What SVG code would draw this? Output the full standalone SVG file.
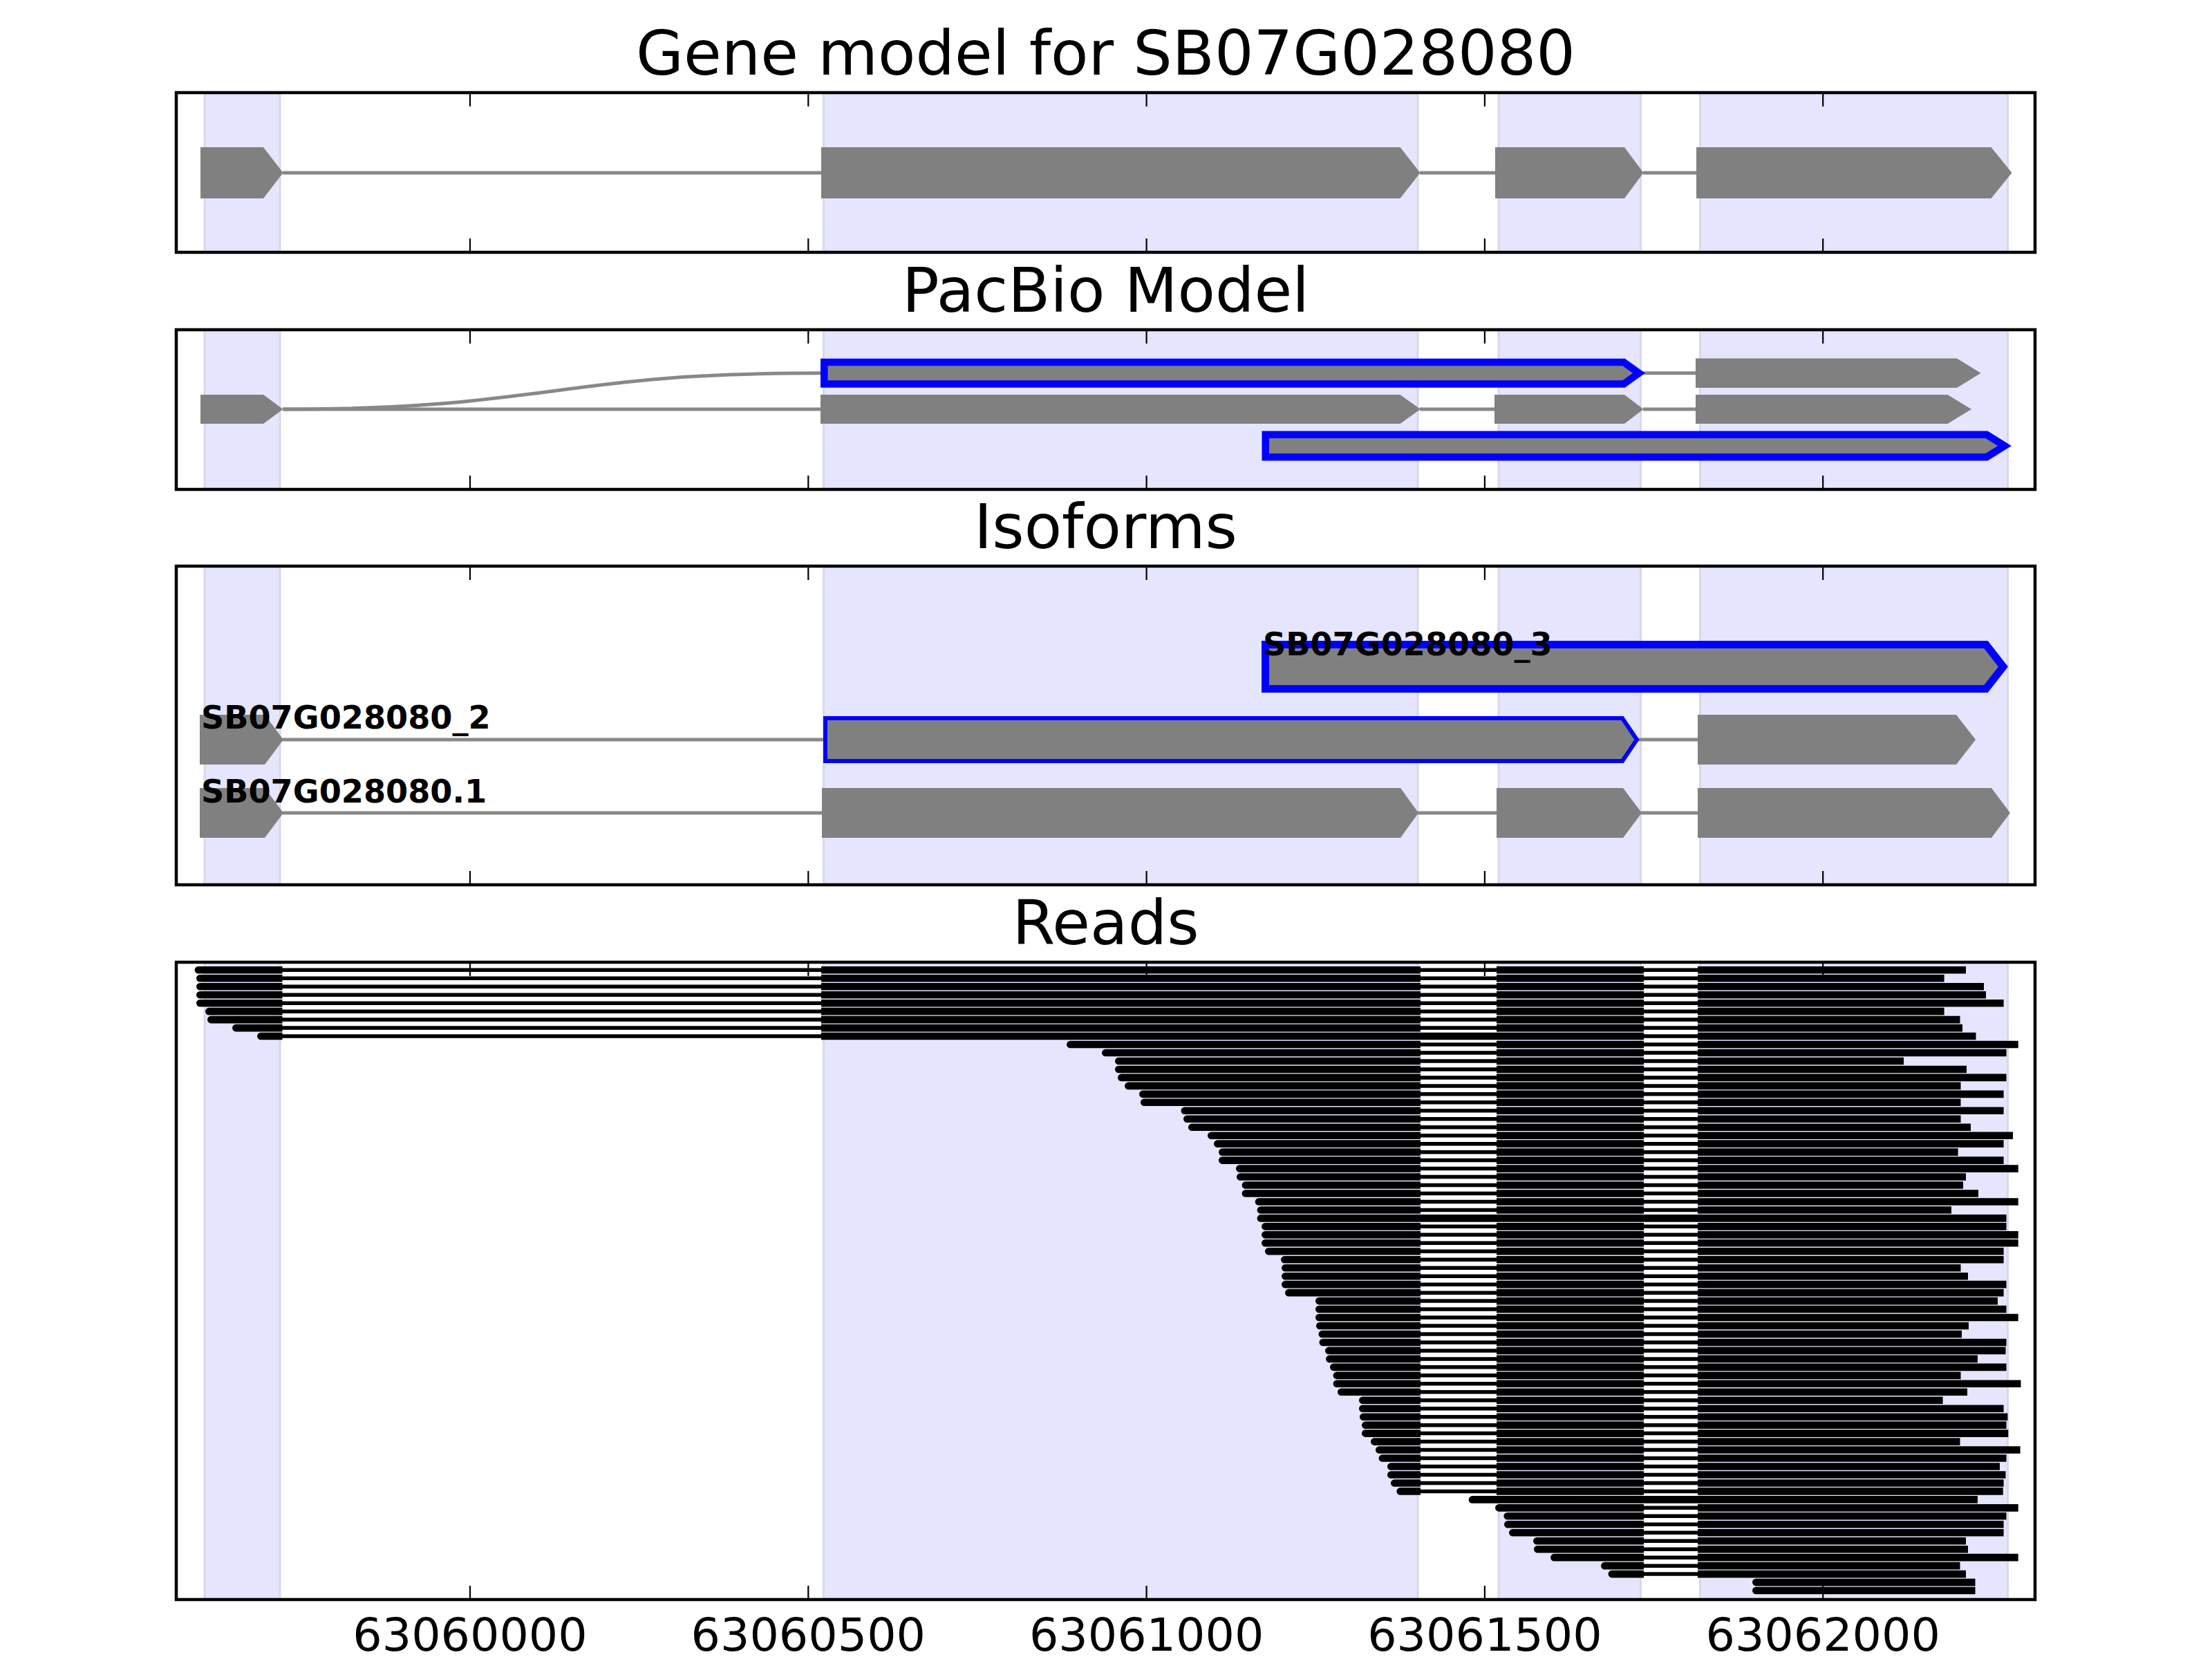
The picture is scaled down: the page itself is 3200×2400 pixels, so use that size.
<svg xmlns="http://www.w3.org/2000/svg" xmlns:xlink="http://www.w3.org/1999/xlink" width="3200" height="2400" viewBox="0 0 3200 2400">
<style>
text{font-family:"DejaVu Sans","Liberation Sans",sans-serif;fill:#000}
.ttl{font-size:89px;text-anchor:middle}
.tl{font-size:66.7px;text-anchor:middle}
.lab{font-size:46.2px;font-weight:bold}
.sh{fill:#e5e5fd;stroke:#d8d8ea;stroke-width:3}
.fr{fill:none;stroke:#000;stroke-width:4.5}
.tk{stroke:#000;stroke-width:2.2;fill:none}
.ex{fill:#808080}
.in{fill:none;stroke:#888;stroke-width:5}
.bl{fill:#808080;stroke:#0000ff;stroke-linejoin:miter}
</style>
<defs>
<path id="tkt" d="M680 0v20M1169.3 0v20M1658.6 0v20M2147.9 0v20M2637.2 0v20"/>
<path id="tkb" d="M680 0v-20M1169.3 0v-20M1658.6 0v-20M2147.9 0v-20M2637.2 0v-20"/>
<path id="m2" d="M1188 -5.3H2055v10.6H1188z"/>
<path id="m3" d="M2165 -5.3H2378v10.6H2165z"/>
<path id="lA" fill="none" stroke="#000" stroke-width="5.5" d="M408 0H1189M2054 0H2166M2377 0H2457"/>
<path id="lA8" fill="none" stroke="#000" stroke-width="5.5" d="M408 0H1189M2377 0H2457"/>
<path id="lB" fill="none" stroke="#000" stroke-width="5.5" d="M2054 0H2166M2377 0H2457"/>
<path id="lC" fill="none" stroke="#000" stroke-width="5.5" d="M2377 0H2457"/>
</defs>
<rect x="0" y="0" width="3200" height="2400" fill="#fff"/>

<g id="panel-gene-model">
<text class="ttl" x="1599.5" y="108">Gene model for SB07G028080</text>
<rect class="sh" x="296" y="134" width="109" height="231"/>
<rect class="sh" x="1191.5" y="134" width="859.5" height="231"/>
<rect class="sh" x="2168" y="134" width="205.5" height="231"/>
<rect class="sh" x="2459.5" y="134" width="445" height="231"/>
<path class="in" d="M409 250H1189M2054 250H2164M2377 250H2455"/>
<polygon class="ex" points="290,213 381,213 409.5,250 381,287 290,287"/>
<polygon class="ex" points="1188,213 2025.5,213 2054.5,250 2025.5,287 1188,287"/>
<polygon class="ex" points="2163,213 2350,213 2377.5,250 2350,287 2163,287"/>
<polygon class="ex" points="2454,213 2880.5,213 2910.5,250 2880.5,287 2454,287"/>
<rect class="fr" x="255" y="134" width="2689" height="231"/>
<use href="#tkt" class="tk" y="134"/>
<use href="#tkb" class="tk" y="365"/>
</g>

<g id="panel-pacbio">
<text class="ttl" x="1599.5" y="451">PacBio Model</text>
<rect class="sh" x="296" y="477" width="109" height="231"/>
<rect class="sh" x="1191.5" y="477" width="859.5" height="231"/>
<rect class="sh" x="2168" y="477" width="205.5" height="231"/>
<rect class="sh" x="2459.5" y="477" width="445" height="231"/>
<path class="in" d="M409 592C798 592 798 539.75 1188 539.75"/>
<path class="in" d="M2371 539.75H2454"/>
<polygon class="bl" stroke-width="10.5" points="1192.25,524 2349,524 2371,539.75 2349,555.5 1192.25,555.5"/>
<polygon class="ex" points="2453,518.5 2831,518.5 2865.5,539.75 2831,561 2453,561"/>
<path class="in" d="M409 592H1188M2054 592H2163M2377 592H2454"/>
<polygon class="ex" points="290,571 381,571 409.5,592 381,613 290,613"/>
<polygon class="ex" points="1187,571 2025.5,571 2055,592 2025.5,613 1187,613"/>
<polygon class="ex" points="2162,571 2350,571 2377.6,592 2350,613 2162,613"/>
<polygon class="ex" points="2453,571 2817.5,571 2852,592 2817.5,613 2453,613"/>
<polygon class="bl" stroke-width="10.5" points="1830.75,628.75 2874,628.75 2900,645 2874,661.25 1830.75,661.25"/>
<rect class="fr" x="255" y="477" width="2689" height="231"/>
<use href="#tkt" class="tk" y="477"/>
<use href="#tkb" class="tk" y="708"/>
</g>

<g id="panel-isoforms">
<text class="ttl" x="1599.5" y="793">Isoforms</text>
<rect class="sh" x="296" y="819" width="109" height="461"/>
<rect class="sh" x="1191.5" y="819" width="859.5" height="461"/>
<rect class="sh" x="2168" y="819" width="205.5" height="461"/>
<rect class="sh" x="2459.5" y="819" width="445" height="461"/>
<g id="iso-3">
<polygon class="bl" stroke-width="11" points="1830.5,932.5 2873,932.5 2898,964.5 2873,996.5 1830.5,996.5"/>
<text class="lab" x="1827" y="948">SB07G028080_3</text>
</g>
<g id="iso-2">
<path class="in" d="M409 1070H1195M2367 1070H2457"/>
<polygon class="ex" points="289,1034 383,1034 410,1070 383,1106 289,1106"/>
<polygon class="bl" stroke-width="6" points="1194,1039 2347,1039 2368,1070 2347,1101 1194,1101"/>
<polygon class="ex" points="2456,1034 2830,1034 2858,1070 2830,1106 2456,1106"/>
<text class="lab" x="291" y="1054">SB07G028080_2</text>
</g>
<g id="iso-1">
<path class="in" d="M409 1176H1190M2051 1176H2166M2374 1176H2457"/>
<polygon class="ex" points="289,1140 383,1140 410,1176 383,1212 289,1212"/>
<polygon class="ex" points="1189,1140 2026,1140 2052,1176 2026,1212 1189,1212"/>
<polygon class="ex" points="2165,1140 2348,1140 2375,1176 2348,1212 2165,1212"/>
<polygon class="ex" points="2456,1140 2881,1140 2908,1176 2881,1212 2456,1212"/>
<text class="lab" x="291" y="1161">SB07G028080.1</text>
</g>
<rect class="fr" x="255" y="819" width="2689" height="461"/>
<use href="#tkt" class="tk" y="819"/>
<use href="#tkb" class="tk" y="1280"/>
</g>

<g id="panel-reads">
<text class="ttl" x="1599.5" y="1366">Reads</text>
<rect class="sh" x="296" y="1392" width="109" height="922"/>
<rect class="sh" x="1191.5" y="1392" width="859.5" height="922"/>
<rect class="sh" x="2168" y="1392" width="205.5" height="922"/>
<rect class="sh" x="2459.5" y="1392" width="445" height="922"/>
<g id="reads" fill="#000">
<g transform="translate(0,1403.3)"><use href="#lA"/><use href="#m2"/><use href="#m3"/><path d="M286.9 -5.3H408.5v10.6H286.9a5.3 5.3 0 0 1 0-10.6zM2456 -5.3H2844v10.6H2456z"/></g>
<g transform="translate(0,1415.27)"><use href="#lA"/><use href="#m2"/><use href="#m3"/><path d="M289.3 -5.3H408.5v10.6H289.3a5.3 5.3 0 0 1 0-10.6zM2456 -5.3H2812.6v10.6H2456z"/></g>
<g transform="translate(0,1427.24)"><use href="#lA"/><use href="#m2"/><use href="#m3"/><path d="M289.3 -5.3H408.5v10.6H289.3a5.3 5.3 0 0 1 0-10.6zM2456 -5.3H2870v10.6H2456z"/></g>
<g transform="translate(0,1439.21)"><use href="#lA"/><use href="#m2"/><use href="#m3"/><path d="M289.3 -5.3H408.5v10.6H289.3a5.3 5.3 0 0 1 0-10.6zM2456 -5.3H2873v10.6H2456z"/></g>
<g transform="translate(0,1451.18)"><use href="#lA"/><use href="#m2"/><use href="#m3"/><path d="M289.3 -5.3H408.5v10.6H289.3a5.3 5.3 0 0 1 0-10.6zM2456 -5.3H2898.6v10.6H2456z"/></g>
<g transform="translate(0,1463.15)"><use href="#lA"/><use href="#m2"/><use href="#m3"/><path d="M302.3 -5.3H408.5v10.6H302.3a5.3 5.3 0 0 1 0-10.6zM2456 -5.3H2812.6v10.6H2456z"/></g>
<g transform="translate(0,1475.12)"><use href="#lA"/><use href="#m2"/><use href="#m3"/><path d="M305.3 -5.3H408.5v10.6H305.3a5.3 5.3 0 0 1 0-10.6zM2456 -5.3H2835.5v10.6H2456z"/></g>
<g transform="translate(0,1487.09)"><use href="#lA"/><use href="#m2"/><use href="#m3"/><path d="M341.3 -5.3H408.5v10.6H341.3a5.3 5.3 0 0 1 0-10.6zM2456 -5.3H2839v10.6H2456z"/></g>
<g transform="translate(0,1499.06)"><use href="#lA8"/><path d="M377.3 -5.3H408.5v10.6H377.3a5.3 5.3 0 0 1 0-10.6zM1188 -5.3H2378v10.6H1188zM2456 -5.3H2858.5v10.6H2456z"/></g>
<g transform="translate(0,1511.03)"><use href="#lB"/><use href="#m3"/><path d="M1548.3 -5.3H2055v10.6H1548.3a5.3 5.3 0 0 1 0-10.6zM2456 -5.3H2919.7v10.6H2456z"/></g>
<g transform="translate(0,1523)"><use href="#lB"/><use href="#m3"/><path d="M1599.3 -5.3H2055v10.6H1599.3a5.3 5.3 0 0 1 0-10.6zM2456 -5.3H2902.5v10.6H2456z"/></g>
<g transform="translate(0,1534.97)"><use href="#lB"/><use href="#m3"/><path d="M1618.3 -5.3H2055v10.6H1618.3a5.3 5.3 0 0 1 0-10.6zM2456 -5.3H2754v10.6H2456z"/></g>
<g transform="translate(0,1546.94)"><use href="#lB"/><use href="#m3"/><path d="M1618.3 -5.3H2055v10.6H1618.3a5.3 5.3 0 0 1 0-10.6zM2456 -5.3H2845v10.6H2456z"/></g>
<g transform="translate(0,1558.91)"><use href="#lB"/><use href="#m3"/><path d="M1622.3 -5.3H2055v10.6H1622.3a5.3 5.3 0 0 1 0-10.6zM2456 -5.3H2902.5v10.6H2456z"/></g>
<g transform="translate(0,1570.88)"><use href="#lB"/><use href="#m3"/><path d="M1632.3 -5.3H2055v10.6H1632.3a5.3 5.3 0 0 1 0-10.6zM2456 -5.3H2836.5v10.6H2456z"/></g>
<g transform="translate(0,1582.85)"><use href="#lB"/><use href="#m3"/><path d="M1653.3 -5.3H2055v10.6H1653.3a5.3 5.3 0 0 1 0-10.6zM2456 -5.3H2898.6v10.6H2456z"/></g>
<g transform="translate(0,1594.82)"><use href="#lB"/><use href="#m3"/><path d="M1655.3 -5.3H2055v10.6H1655.3a5.3 5.3 0 0 1 0-10.6zM2456 -5.3H2836.5v10.6H2456z"/></g>
<g transform="translate(0,1606.79)"><use href="#lB"/><use href="#m3"/><path d="M1713.8 -5.3H2055v10.6H1713.8a5.3 5.3 0 0 1 0-10.6zM2456 -5.3H2898.6v10.6H2456z"/></g>
<g transform="translate(0,1618.76)"><use href="#lB"/><use href="#m3"/><path d="M1717.3 -5.3H2055v10.6H1717.3a5.3 5.3 0 0 1 0-10.6zM2456 -5.3H2836.5v10.6H2456z"/></g>
<g transform="translate(0,1630.73)"><use href="#lB"/><use href="#m3"/><path d="M1724.3 -5.3H2055v10.6H1724.3a5.3 5.3 0 0 1 0-10.6zM2456 -5.3H2851v10.6H2456z"/></g>
<g transform="translate(0,1642.7)"><use href="#lB"/><use href="#m3"/><path d="M1752.3 -5.3H2055v10.6H1752.3a5.3 5.3 0 0 1 0-10.6zM2456 -5.3H2912v10.6H2456z"/></g>
<g transform="translate(0,1654.67)"><use href="#lB"/><use href="#m3"/><path d="M1761.3 -5.3H2055v10.6H1761.3a5.3 5.3 0 0 1 0-10.6zM2456 -5.3H2898.6v10.6H2456z"/></g>
<g transform="translate(0,1666.64)"><use href="#lB"/><use href="#m3"/><path d="M1768.3 -5.3H2055v10.6H1768.3a5.3 5.3 0 0 1 0-10.6zM2456 -5.3H2832.6v10.6H2456z"/></g>
<g transform="translate(0,1678.61)"><use href="#lB"/><use href="#m3"/><path d="M1768.3 -5.3H2055v10.6H1768.3a5.3 5.3 0 0 1 0-10.6zM2456 -5.3H2898.6v10.6H2456z"/></g>
<g transform="translate(0,1690.58)"><use href="#lB"/><use href="#m3"/><path d="M1793.3 -5.3H2055v10.6H1793.3a5.3 5.3 0 0 1 0-10.6zM2456 -5.3H2919.7v10.6H2456z"/></g>
<g transform="translate(0,1702.55)"><use href="#lB"/><use href="#m3"/><path d="M1794.3 -5.3H2055v10.6H1794.3a5.3 5.3 0 0 1 0-10.6zM2456 -5.3H2844v10.6H2456z"/></g>
<g transform="translate(0,1714.52)"><use href="#lB"/><use href="#m3"/><path d="M1801.9 -5.3H2055v10.6H1801.9a5.3 5.3 0 0 1 0-10.6zM2456 -5.3H2840v10.6H2456z"/></g>
<g transform="translate(0,1726.49)"><use href="#lB"/><use href="#m3"/><path d="M1801.9 -5.3H2055v10.6H1801.9a5.3 5.3 0 0 1 0-10.6zM2456 -5.3H2862v10.6H2456z"/></g>
<g transform="translate(0,1738.46)"><use href="#lB"/><use href="#m3"/><path d="M1821 -5.3H2055v10.6H1821a5.3 5.3 0 0 1 0-10.6zM2456 -5.3H2919.7v10.6H2456z"/></g>
<g transform="translate(0,1750.43)"><use href="#lB"/><use href="#m3"/><path d="M1823.9 -5.3H2055v10.6H1823.9a5.3 5.3 0 0 1 0-10.6zM2456 -5.3H2823v10.6H2456z"/></g>
<g transform="translate(0,1762.4)"><path d="M1823.9 -5.3H2902.5v10.6H1823.9a5.3 5.3 0 0 1 0-10.6z"/></g>
<g transform="translate(0,1774.37)"><use href="#lB"/><use href="#m3"/><path d="M1830.3 -5.3H2055v10.6H1830.3a5.3 5.3 0 0 1 0-10.6zM2456 -5.3H2902.5v10.6H2456z"/></g>
<g transform="translate(0,1786.34)"><use href="#lB"/><use href="#m3"/><path d="M1830.3 -5.3H2055v10.6H1830.3a5.3 5.3 0 0 1 0-10.6zM2456 -5.3H2919.7v10.6H2456z"/></g>
<g transform="translate(0,1798.31)"><use href="#lB"/><use href="#m3"/><path d="M1830.3 -5.3H2055v10.6H1830.3a5.3 5.3 0 0 1 0-10.6zM2456 -5.3H2919.7v10.6H2456z"/></g>
<g transform="translate(0,1810.28)"><use href="#lB"/><use href="#m3"/><path d="M1835.3 -5.3H2055v10.6H1835.3a5.3 5.3 0 0 1 0-10.6zM2456 -5.3H2898.6v10.6H2456z"/></g>
<g transform="translate(0,1822.25)"><use href="#lB"/><use href="#m3"/><path d="M1858.3 -5.3H2055v10.6H1858.3a5.3 5.3 0 0 1 0-10.6zM2456 -5.3H2898.6v10.6H2456z"/></g>
<g transform="translate(0,1834.22)"><use href="#lB"/><use href="#m3"/><path d="M1859.3 -5.3H2055v10.6H1859.3a5.3 5.3 0 0 1 0-10.6zM2456 -5.3H2836.5v10.6H2456z"/></g>
<g transform="translate(0,1846.19)"><use href="#lB"/><use href="#m3"/><path d="M1859.3 -5.3H2055v10.6H1859.3a5.3 5.3 0 0 1 0-10.6zM2456 -5.3H2847v10.6H2456z"/></g>
<g transform="translate(0,1858.16)"><use href="#lB"/><use href="#m3"/><path d="M1859.3 -5.3H2055v10.6H1859.3a5.3 5.3 0 0 1 0-10.6zM2456 -5.3H2902.5v10.6H2456z"/></g>
<g transform="translate(0,1870.13)"><use href="#lB"/><use href="#m3"/><path d="M1864.3 -5.3H2055v10.6H1864.3a5.3 5.3 0 0 1 0-10.6zM2456 -5.3H2898.6v10.6H2456z"/></g>
<g transform="translate(0,1882.1)"><use href="#lB"/><use href="#m3"/><path d="M1908.3 -5.3H2055v10.6H1908.3a5.3 5.3 0 0 1 0-10.6zM2456 -5.3H2890v10.6H2456z"/></g>
<g transform="translate(0,1894.07)"><use href="#lB"/><use href="#m3"/><path d="M1908.3 -5.3H2055v10.6H1908.3a5.3 5.3 0 0 1 0-10.6zM2456 -5.3H2902.5v10.6H2456z"/></g>
<g transform="translate(0,1906.04)"><use href="#lB"/><use href="#m3"/><path d="M1908.3 -5.3H2055v10.6H1908.3a5.3 5.3 0 0 1 0-10.6zM2456 -5.3H2919.7v10.6H2456z"/></g>
<g transform="translate(0,1918.01)"><use href="#lB"/><use href="#m3"/><path d="M1909.3 -5.3H2055v10.6H1909.3a5.3 5.3 0 0 1 0-10.6zM2456 -5.3H2848v10.6H2456z"/></g>
<g transform="translate(0,1929.98)"><use href="#lB"/><use href="#m3"/><path d="M1912.8 -5.3H2055v10.6H1912.8a5.3 5.3 0 0 1 0-10.6zM2456 -5.3H2838v10.6H2456z"/></g>
<g transform="translate(0,1941.95)"><use href="#lB"/><use href="#m3"/><path d="M1913.8 -5.3H2055v10.6H1913.8a5.3 5.3 0 0 1 0-10.6zM2456 -5.3H2902.5v10.6H2456z"/></g>
<g transform="translate(0,1953.92)"><use href="#lB"/><use href="#m3"/><path d="M1922.3 -5.3H2055v10.6H1922.3a5.3 5.3 0 0 1 0-10.6zM2456 -5.3H2901.5v10.6H2456z"/></g>
<g transform="translate(0,1965.89)"><use href="#lB"/><use href="#m3"/><path d="M1923.3 -5.3H2055v10.6H1923.3a5.3 5.3 0 0 1 0-10.6zM2456 -5.3H2861v10.6H2456z"/></g>
<g transform="translate(0,1977.86)"><use href="#lB"/><use href="#m3"/><path d="M1929.3 -5.3H2055v10.6H1929.3a5.3 5.3 0 0 1 0-10.6zM2456 -5.3H2902.5v10.6H2456z"/></g>
<g transform="translate(0,1989.83)"><use href="#lB"/><use href="#m3"/><path d="M1933.9 -5.3H2055v10.6H1933.9a5.3 5.3 0 0 1 0-10.6zM2456 -5.3H2836.5v10.6H2456z"/></g>
<g transform="translate(0,2001.8)"><use href="#lB"/><use href="#m3"/><path d="M1933.9 -5.3H2055v10.6H1933.9a5.3 5.3 0 0 1 0-10.6zM2456 -5.3H2923.5v10.6H2456z"/></g>
<g transform="translate(0,2013.77)"><use href="#lB"/><use href="#m3"/><path d="M1940.3 -5.3H2055v10.6H1940.3a5.3 5.3 0 0 1 0-10.6zM2456 -5.3H2846v10.6H2456z"/></g>
<g transform="translate(0,2025.74)"><use href="#lB"/><use href="#m3"/><path d="M1971.3 -5.3H2055v10.6H1971.3a5.3 5.3 0 0 1 0-10.6zM2456 -5.3H2810.6v10.6H2456z"/></g>
<g transform="translate(0,2037.71)"><use href="#lB"/><use href="#m3"/><path d="M1971.3 -5.3H2055v10.6H1971.3a5.3 5.3 0 0 1 0-10.6zM2456 -5.3H2898.6v10.6H2456z"/></g>
<g transform="translate(0,2049.68)"><use href="#lB"/><use href="#m3"/><path d="M1972.3 -5.3H2055v10.6H1972.3a5.3 5.3 0 0 1 0-10.6zM2456 -5.3H2904.4v10.6H2456z"/></g>
<g transform="translate(0,2061.65)"><use href="#lB"/><use href="#m3"/><path d="M1975.3 -5.3H2055v10.6H1975.3a5.3 5.3 0 0 1 0-10.6zM2456 -5.3H2902.5v10.6H2456z"/></g>
<g transform="translate(0,2073.62)"><use href="#lB"/><use href="#m3"/><path d="M1975.3 -5.3H2055v10.6H1975.3a5.3 5.3 0 0 1 0-10.6zM2456 -5.3H2905.3v10.6H2456z"/></g>
<g transform="translate(0,2085.59)"><use href="#lB"/><use href="#m3"/><path d="M1988.3 -5.3H2055v10.6H1988.3a5.3 5.3 0 0 1 0-10.6zM2456 -5.3H2835.5v10.6H2456z"/></g>
<g transform="translate(0,2097.56)"><use href="#lB"/><use href="#m3"/><path d="M1995.3 -5.3H2055v10.6H1995.3a5.3 5.3 0 0 1 0-10.6zM2456 -5.3H2922.6v10.6H2456z"/></g>
<g transform="translate(0,2109.53)"><use href="#lB"/><use href="#m3"/><path d="M1999.9 -5.3H2055v10.6H1999.9a5.3 5.3 0 0 1 0-10.6zM2456 -5.3H2902.5v10.6H2456z"/></g>
<g transform="translate(0,2121.5)"><use href="#lB"/><use href="#m3"/><path d="M2012.3 -5.3H2055v10.6H2012.3a5.3 5.3 0 0 1 0-10.6zM2456 -5.3H2893v10.6H2456z"/></g>
<g transform="translate(0,2133.47)"><use href="#lB"/><use href="#m3"/><path d="M2012.3 -5.3H2055v10.6H2012.3a5.3 5.3 0 0 1 0-10.6zM2456 -5.3H2901.5v10.6H2456z"/></g>
<g transform="translate(0,2145.44)"><use href="#lB"/><use href="#m3"/><path d="M2017.3 -5.3H2055v10.6H2017.3a5.3 5.3 0 0 1 0-10.6zM2456 -5.3H2898.6v10.6H2456z"/></g>
<g transform="translate(0,2157.41)"><use href="#lB"/><use href="#m3"/><path d="M2025.7 -5.3H2055v10.6H2025.7a5.3 5.3 0 0 1 0-10.6zM2456 -5.3H2897.7v10.6H2456z"/></g>
<g transform="translate(0,2169.38)"><path d="M2130 -5.3H2861v10.6H2130a5.3 5.3 0 0 1 0-10.6z"/></g>
<g transform="translate(0,2181.35)"><use href="#lC"/><path d="M2168.3 -5.3H2378v10.6H2168.3a5.3 5.3 0 0 1 0-10.6zM2456 -5.3H2919.7v10.6H2456z"/></g>
<g transform="translate(0,2193.32)"><use href="#lC"/><path d="M2180.7 -5.3H2378v10.6H2180.7a5.3 5.3 0 0 1 0-10.6zM2456 -5.3H2902.5v10.6H2456z"/></g>
<g transform="translate(0,2205.29)"><use href="#lC"/><path d="M2181.3 -5.3H2378v10.6H2181.3a5.3 5.3 0 0 1 0-10.6zM2456 -5.3H2898.6v10.6H2456z"/></g>
<g transform="translate(0,2217.26)"><use href="#lC"/><path d="M2188.3 -5.3H2378v10.6H2188.3a5.3 5.3 0 0 1 0-10.6zM2456 -5.3H2898.6v10.6H2456z"/></g>
<g transform="translate(0,2229.23)"><use href="#lC"/><path d="M2223.3 -5.3H2378v10.6H2223.3a5.3 5.3 0 0 1 0-10.6zM2456 -5.3H2844v10.6H2456z"/></g>
<g transform="translate(0,2241.2)"><use href="#lC"/><path d="M2224.3 -5.3H2378v10.6H2224.3a5.3 5.3 0 0 1 0-10.6zM2456 -5.3H2847v10.6H2456z"/></g>
<g transform="translate(0,2253.17)"><use href="#lC"/><path d="M2248.3 -5.3H2378v10.6H2248.3a5.3 5.3 0 0 1 0-10.6zM2456 -5.3H2919.7v10.6H2456z"/></g>
<g transform="translate(0,2265.14)"><use href="#lC"/><path d="M2321.3 -5.3H2378v10.6H2321.3a5.3 5.3 0 0 1 0-10.6zM2456 -5.3H2835.5v10.6H2456z"/></g>
<g transform="translate(0,2277.11)"><use href="#lC"/><path d="M2331.8 -5.3H2378v10.6H2331.8a5.3 5.3 0 0 1 0-10.6zM2456 -5.3H2844v10.6H2456z"/></g>
<g transform="translate(0,2289.08)"><path d="M2540.3 -5.3H2857.5v10.6H2540.3a5.3 5.3 0 0 1 0-10.6z"/></g>
<g transform="translate(0,2301.05)"><path d="M2540.3 -5.3H2857.5v10.6H2540.3a5.3 5.3 0 0 1 0-10.6z"/></g>
</g>
<rect class="fr" x="255" y="1392" width="2689" height="922"/>
<use href="#tkt" class="tk" y="1392"/>
<use href="#tkb" class="tk" y="2314"/>
</g>

<g id="x-axis">
<text class="tl" x="680" y="2388">63060000</text>
<text class="tl" x="1169.3" y="2388">63060500</text>
<text class="tl" x="1658.6" y="2388">63061000</text>
<text class="tl" x="2147.9" y="2388">63061500</text>
<text class="tl" x="2637.2" y="2388">63062000</text>
</g>
</svg>
